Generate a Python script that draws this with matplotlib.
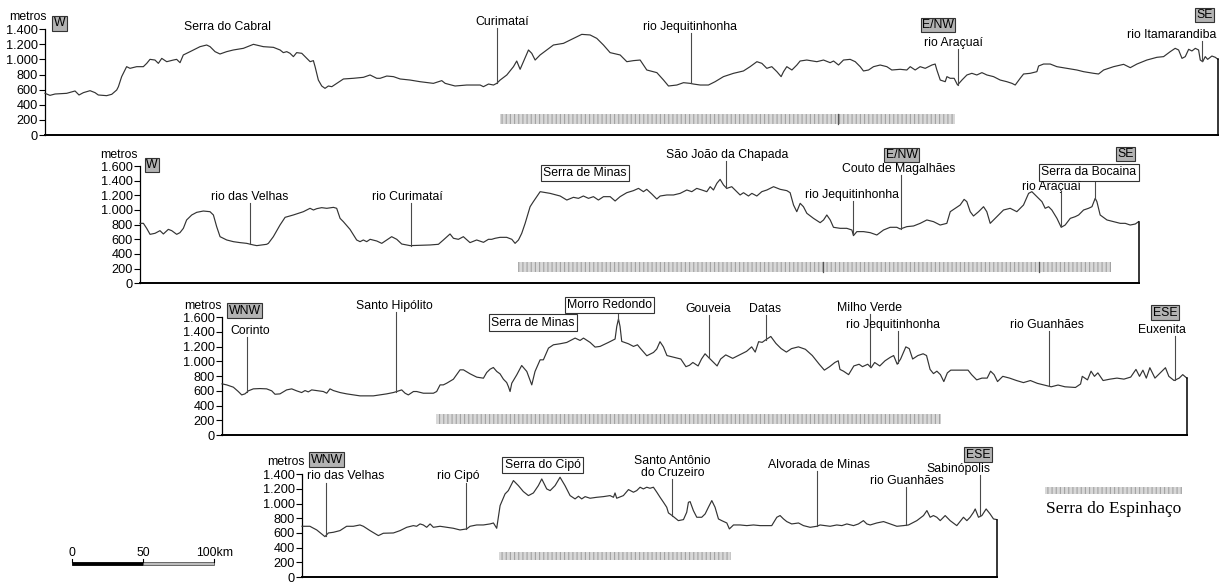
import numpy as np
import matplotlib
matplotlib.use("Agg")
import matplotlib.pyplot as plt
from matplotlib.patches import Rectangle

plt.rcParams['font.family'] = ['Liberation Sans', 'DejaVu Sans']
plt.rcParams['hatch.linewidth'] = 0.8

W, H = 1223, 583
PX_PER_KM = 1.417          # horizontal scale shared by all profiles
LINE = '#333333'
LEAD = '#4a4a4a'
FS = 8.8

# ---------------- profile 1: W -> E/NW -> SE ----------------
p1_km = [0, 3.5, 7.1, 15.3, 21.2, 24.0, 27.1, 31.8, 35.3, 37.6,
         43.5, 47.1, 50.6, 51.8, 54.1, 57.6, 60.0, 64.7, 69.4, 71.8,
         74.1, 77.6, 80.0, 82.4, 85.9, 90.6, 92.9, 95.3, 97.6, 102.4,
         109.4, 114.1, 116.5, 120.0, 123.5, 128.2, 132.9, 140.0, 147.1, 154.1,
         161.2, 165.9, 168.2, 170.6, 172.9, 175.3, 177.6, 181.2, 184.7, 187.1,
         189.4, 190.6, 192.9, 195.3, 197.6, 200.0, 202.4, 205.9, 210.6, 217.6,
         224.7, 229.4, 234.1, 236.5, 241.2, 245.9, 250.6,
         257.6, 264.7, 274.1, 280.0, 282.4, 289.4, 297.6, 307.1, 309.4, 313.0,
         316.5, 318.8, 321.2, 325.9, 330.6, 332.9, 335.3, 337.6, 341.2, 343.5,
         345.9, 349.4, 354.1, 358.8, 365.9, 373.0, 378.8, 384.7, 389.4, 394.1,
         398.8, 405.9, 410.6, 415.3, 420.0, 424.7, 431.8, 436.5, 440.0, 445.9,
         450.6, 455.3, 457.6, 462.4, 468.2, 472.9, 478.8, 485.9, 492.9, 497.6,
         502.4, 505.9, 509.4, 512.9, 516.5, 519.5, 521.2, 523.5, 527.1, 530.6,
         532.9, 537.6, 544.7, 549.4, 554.1, 556.5, 560.0, 563.5, 568.2, 571.8,
         575.3, 577.6, 581.2, 584.7, 589.4, 594.1, 597.6, 603.5, 608.2, 610.6,
         614.1, 617.6, 621.2, 625.9, 628.2, 629.4, 631.8, 635.3, 636.5, 638.8,
         641.6, 644.0, 647.1, 650.6, 654.1, 657.6, 661.2, 664.7, 669.4, 674.1,
         678.8, 682.4, 684.7, 688.2, 690.6, 695.3, 700.0, 701.2, 704.7, 709.4,
         714.1, 721.2, 728.2, 732.9, 740.0, 743.5, 747.1, 754.1, 761.2, 765.9,
         770.6, 777.6, 784.7, 789.4, 794.1, 797.6, 800.0, 802.4, 804.7, 807.1,
         809.4, 811.8, 814.1, 815.3, 817.0, 818.8, 820.5, 823.5, 825.9, 827.8]
p1_m = [552, 525, 543, 552, 583, 530, 561, 587, 561, 530,
        521, 539, 596, 640, 773, 905, 883, 905, 905, 949,
        1002, 993, 949, 1015, 971, 993, 1002, 958, 1060, 1104,
        1170, 1192, 1170, 1104, 1073, 1104, 1126, 1148, 1201, 1170,
        1161, 1126, 1091, 1104, 1082, 1038, 1091, 1082, 1015, 971,
        985, 905, 728, 649, 618, 649, 640, 684, 742, 751,
        764, 795, 751, 751, 781, 773, 742,
        728, 706, 684, 720, 684, 649, 662, 662, 640, 675,
        662, 684, 728, 795, 905, 980, 870, 971, 1126, 1082,
        993, 1060, 1126, 1192, 1214, 1280, 1333, 1325, 1280, 1192,
        1091, 1060, 971, 985, 993, 861, 826, 728, 649, 662,
        693, 684, 675, 662, 662, 706, 773, 817, 848, 905,
        971, 949, 883, 905, 839, 773, 839, 905, 861, 927,
        980, 993, 971, 993, 958, 980, 927, 993, 1002, 971,
        905, 848, 861, 905, 927, 905, 861, 870, 861, 905,
        861, 905, 883, 927, 940, 861, 728, 706, 773, 751,
        751, 662, 728, 795, 817, 795, 826, 795, 773, 728,
        706, 684, 662, 751, 808, 817, 839, 914, 940, 940,
        905, 883, 861, 839, 817, 808, 861, 905, 936, 892,
        940, 993, 1029, 1038, 1104, 1148, 1126, 1015, 1038, 1135,
        1113, 1148, 1126, 993, 971, 1038, 1002, 1046, 1029, 1002]

# ---------------- profile 2: W -> E/NW -> SE ----------------
p2_km = [0, 2.4, 4.7, 7.1, 10.6, 14.1, 16.5, 20.0, 22.4, 25.9,
         28.2, 30.6, 32.9, 36.5, 40.0, 44.7, 49.4, 51.8, 54.1, 56.5,
         61.2, 65.9, 70.6, 75.3, 80.0, 82.4, 89.4, 90.6, 94.1, 98.8,
         102.4, 108.2, 115.3, 120.0, 122.4, 124.7, 128.2, 131.8, 136.5, 138.8,
         141.2, 143.5, 148.2, 152.9, 155.3, 157.6, 160.0, 162.4, 167.1, 170.6,
         174.1, 177.6, 181.2, 184.7, 190.6, 197.6, 204.7, 210.6, 214.1, 218.8,
         221.2, 224.7, 228.2, 232.9, 237.6, 242.4, 245.9, 248.2, 250.6, 254.1,
         258.8, 262.4, 264.7, 267.1, 269.4, 271.8, 275.3, 277.6,
         282.4, 289.4, 296.5, 301.2, 305.9, 309.4, 312.9, 316.5, 320.0, 323.5,
         327.1, 331.8, 335.3, 338.8, 343.5, 348.2, 351.8, 355.3, 357.6, 361.2,
         364.7, 367.1, 371.8, 376.5, 381.2, 385.9, 389.4, 392.9, 396.5, 400.0,
         402.4, 404.7, 407.1, 409.4, 411.8, 414.1, 417.6, 421.2, 423.5, 425.9,
         429.4, 431.8, 435.3, 438.8, 442.4, 447.1, 451.8, 456.5, 458.8, 461.2,
         463.5, 465.9, 468.2, 470.6, 475.3, 480.0, 482.4, 484.7, 487.1, 489.4,
         494.1, 498.8, 502.4, 503.5, 505.9, 510.6, 515.3, 520.0, 524.7, 529.4,
         534.1, 536.5, 541.2, 545.9, 550.6, 555.3, 560.0, 564.7, 569.4,
         571.8, 575.3, 578.8, 581.6, 583.5, 585.9, 588.2, 591.8, 595.3, 597.6,
         600.0, 604.7, 609.4, 614.1, 618.8, 623.5, 627.1, 629.4, 632.9, 636.5,
         638.8, 641.2, 643.5, 647.1, 650.1, 652.9, 656.5, 660.0, 662.4, 665.9,
         669.4, 671.8, 674.1, 675.3, 677.6, 682.4, 687.1, 691.8, 695.3, 698.8,
         702.4, 704.7]
p2_m = [818, 818, 750, 668, 682, 718, 673, 736, 718, 668,
        691, 750, 864, 932, 968, 986, 977, 932, 773, 636,
        591, 568, 555, 545, 523, 514, 532, 545, 636, 795,
        900, 932, 977, 1023, 1000, 1018, 1032, 1023, 1036, 1023,
        886, 841, 736, 591, 568, 591, 568, 600, 577, 545,
        591, 636, 600, 536, 514, 518, 523, 532, 591, 673,
        614, 600, 636, 555, 591, 559, 600, 600, 614, 627,
        627, 600, 545, 591, 682, 818, 1045, 1114,
        1250, 1227, 1191, 1136, 1173, 1159, 1191, 1159, 1182, 1136,
        1182, 1182, 1123, 1182, 1236, 1264, 1295, 1250, 1282, 1218,
        1150, 1191, 1205, 1205, 1227, 1273, 1250, 1295, 1273, 1250,
        1318, 1273, 1364, 1418, 1341, 1295, 1318, 1250, 1205, 1236,
        1191, 1227, 1191, 1250, 1273, 1318, 1282, 1264, 1236, 1068,
        977, 1091, 1045, 955, 886, 827, 864, 932, 864, 764,
        750, 750, 727, 650, 705, 705, 691, 659, 727, 764,
        764, 741, 773, 782, 818, 864, 841, 795, 818,
        977, 1023, 1068, 1145, 1114, 977, 918, 977, 1045, 977,
        818, 909, 1000, 1023, 977, 1068, 1227, 1250, 1182, 1114,
        1023, 1045, 1000, 886, 764, 795, 886, 909, 932, 1000,
        1023, 1045, 1159, 1114, 932, 864, 841, 818, 818, 795,
        809, 841]

# ---------------- profile 3: WNW -> ESE ----------------
p3_km = [0, 3.3, 8.0, 11.5, 13.9, 16.2, 18.6, 22.1, 26.8, 31.5,
         35.1, 37.4, 40.9, 45.6, 49.2, 52.7, 56.2, 58.6, 60.9, 63.3,
         66.8, 71.5, 73.9, 76.2, 78.6, 83.3, 88.0, 92.7, 97.4, 102.1,
         106.8, 111.5, 116.2, 120.9, 123.3, 126.8, 129.2, 131.5, 135.1, 137.4,
         142.1, 144.5, 149.2, 151.5, 153.9, 156.2, 158.6, 163.3, 168.0, 170.4,
         175.1, 179.8, 184.5, 186.8, 189.2, 191.5, 193.9, 196.2, 198.6, 200.9,
         202.1, 203.3, 204.5, 208.0, 211.5, 215.1, 218.6, 220.9, 224.5, 226.8,
         230.4, 233.9, 238.6, 243.3, 249.2, 252.7, 255.1, 259.8, 263.3, 266.8,
         272.7, 277.4, 278.6, 279.8, 280.9, 282.1, 286.8, 290.4, 293.2, 295.1,
         299.8, 304.5, 306.8,
         309.1, 311.5, 314.0, 318.9, 323.8, 327.4, 329.9, 332.3, 336.0, 338.4,
         340.9, 343.3, 347.0, 349.4, 351.9, 355.5, 360.4, 365.3, 370.2, 373.8,
         376.3, 378.7, 381.2, 383.6, 387.3, 390.9, 394.6, 398.3, 401.9, 406.8,
         411.7, 416.6, 421.5, 425.1, 428.8, 432.5, 434.9, 436.1, 438.6, 442.2,
         445.9, 449.6, 452.0, 455.7, 458.1, 460.6, 464.2, 467.9, 471.6, 474.0,
         476.5, 478.9, 482.6, 485.0, 487.4, 491.1, 494.8, 497.2, 499.7, 502.1,
         504.5, 507.0, 509.4, 511.9, 514.3, 519.2, 524.1, 526.5, 529.0, 532.6,
         536.3, 540.0, 542.4, 544.9, 547.3, 551.0, 555.8, 560.7, 565.6, 570.5,
         575.4, 580.3, 585.2, 590.0, 594.9, 602.3, 605.9, 607.1, 610.8, 613.3,
         615.7, 618.1, 621.8, 626.7, 631.6, 636.5, 641.3, 645.0, 647.5, 649.9,
         652.3, 654.8, 658.4, 662.1, 665.8, 668.2, 671.9, 675.5, 678.0, 680.9]
p3_m = [694, 680, 649, 590, 544, 558, 599, 626, 630, 626,
        599, 553, 558, 612, 626, 599, 576, 603, 585, 612,
        603, 590, 567, 626, 603, 576, 558, 544, 531, 531,
        531, 544, 558, 576, 590, 612, 567, 544, 590, 590,
        567, 567, 567, 590, 680, 680, 703, 757, 884, 884,
        830, 785, 771, 848, 893, 916, 862, 830, 757, 712,
        658, 590, 703, 816, 943, 862, 680, 862, 1020, 1020,
        1179, 1224, 1238, 1256, 1315, 1283, 1315, 1256, 1193, 1202,
        1256, 1302, 1474, 1574, 1474, 1270, 1238, 1202, 1224, 1179,
        1075, 1120, 1166,
        1266, 1196, 1078, 1054, 1031, 927, 946, 984, 937, 1031,
        1102, 1054, 984, 937, 1031, 1087, 1040, 1087, 1135, 1196,
        1125, 1266, 1257, 1290, 1337, 1243, 1172, 1125, 1172, 1196,
        1163, 1078, 960, 880, 927, 984, 1007, 890, 866, 819,
        937, 960, 927, 960, 913, 984, 937, 1007, 1054, 1078,
        960, 1031, 1196, 1172, 1031, 1078, 1102, 1078, 890, 833,
        866, 819, 725, 843, 880, 880, 880, 880, 819, 748,
        772, 772, 866, 819, 725, 796, 772, 739, 711, 739,
        701, 678, 654, 678, 654, 645, 692, 796, 748, 866,
        796, 843, 739, 758, 772, 758, 786, 890, 796, 880,
        772, 913, 772, 843, 913, 796, 739, 772, 819, 772]

# ---------------- profile 4: WNW -> ESE ----------------
p4_km = [0, 5.6, 6.8, 10.4, 13.9, 16.2, 18.6, 22.1, 26.8, 31.5,
         36.2, 40.9, 43.3, 48.0, 53.9, 57.4, 64.5, 69.2, 73.9, 78.6,
         80.9, 83.3, 85.6, 88.0, 90.4, 92.7, 97.4, 102.1, 106.8, 111.5,
         116.2, 118.6, 123.3, 128.0, 132.7, 135.1, 137.4,
         139.8, 143.3, 145.6, 149.2, 152.7, 156.2, 159.8, 163.3, 166.8, 169.2,
         172.7, 175.1, 178.6, 182.1, 185.6, 189.2, 192.7, 195.1, 197.4, 199.8,
         203.3, 208.0, 212.7, 217.4, 219.8, 220.9, 222.1, 226.8, 230.4, 233.9,
         236.2, 238.6, 240.9, 243.3, 245.6, 248.0, 250.4, 252.7, 255.1, 257.4,
         258.6, 261.2, 265.6, 269.2, 271.5, 272.7, 273.9, 276.2, 278.6, 282.1,
         284.5, 286.8, 289.2, 291.5, 293.9, 296.2, 299.8, 301.6, 304.5, 309.2,
         313.9, 318.6, 323.3, 328.0, 331.5, 335.1, 337.4, 339.8, 342.1, 345.6,
         350.4, 353.9, 358.6, 363.3, 365.6, 369.2, 372.7, 377.4, 381.0, 384.5,
         389.2, 392.7, 396.2, 398.6, 401.0, 405.6, 410.4, 415.1, 419.8, 424.5,
         428.0, 433.9, 438.6, 441.0, 443.3, 445.6, 448.0, 450.4, 453.9, 457.4,
         462.1, 466.8, 469.2, 471.5, 473.9, 475.1, 477.4, 479.8, 482.8, 485.6,
         488.0, 490.4]
p4_m = [691, 691, 678, 641, 587, 550, 600, 609, 632, 691,
        691, 709, 691, 632, 564, 596, 600, 632, 677, 700,
        691, 723, 709, 677, 723, 677, 691, 677, 664, 641,
        655, 691, 709, 709, 723, 736, 664,
        973, 1132, 1177, 1314, 1245, 1164, 1109, 1145, 1245, 1336,
        1200, 1177, 1245, 1359, 1245, 1109, 1064, 1100, 1064, 1095,
        1073, 1086, 1095, 1109, 1086, 1145, 1073, 1109, 1191, 1155,
        1177, 1223, 1200, 1223, 1209, 1223, 1155, 1086, 1018, 950,
        873, 837, 768, 782, 882, 1018, 1027, 905, 814, 814,
        859, 950, 1041, 950, 791, 768, 736, 655, 709, 709,
        700, 709, 700, 700, 700, 814, 837, 791, 755, 723,
        736, 700, 677, 691, 709, 700, 691, 709, 700, 723,
        700, 723, 768, 723, 709, 736, 755, 723, 691, 700,
        709, 768, 837, 905, 814, 837, 814, 768, 837, 768,
        700, 814, 768, 814, 882, 927, 814, 837, 927, 859,
        791, 782]

# Serra do Espinhaço extent along each profile (km)
p1_espinhaco = (321.1, 642.2)
p2_espinhaco = (266.8, 685.3)
p3_espinhaco = (151.0, 507.4)
p4_espinhaco = (139.0, 302.8)

# labels: (text, x_km, y_m, style, leader_km, leader_top_m)
p1_labels = [
    ("W", 10.4, 1479, 'dir', None, None),
    ("Serra do Cabral", 129.1, 1430, None, None, None),
    ("Curimataí", 322.3, 1501, None, 319.2, 1417),
    ("rio Jequitinhonha", 455.2, 1426, None, 455.7, 1351),
    ("E/NW", 630.2, 1457, 'dir', None, None),
    ("rio Araçuaí", 641.4, 1215, None, 644.1, 1139),
    ("SE", 818.4, 1589, 'dir', None, None),
    ("rio Itamarandiba", 795.3, 1325, None, 816.7, 1245),
]
p2_labels = [
    ("W", 8.5, 1614, 'dir', None, None),
    ("rio das Velhas", 77.6, 1181, None, 77.6, 1095),
    ("rio Curimataí", 188.8, 1181, None, 191.0, 1095),
    ("Serra de Minas", 314.0, 1505, 'box', None, None),
    ("São João da Chapada", 414.3, 1750, None, 413.6, 1668),
    ("E/NW", 537.5, 1750, 'dir', None, None),
    ("Couto de Magalhães", 535.1, 1555, None, 537.1, 1477),
    ("rio Jequitinhonha", 502.5, 1205, None, 503.2, 1123),
    ("SE", 695.7, 1764, 'dir', None, None),
    ("Serra da Bocaina", 669.6, 1514, 'box', 674.0, 1409),
    ("rio Araçuaí", 643.4, 1318, None, 649.8, 1232),
]
p3_labels = [
    ("WNW", 16.2, 1687, 'dir', None, None),
    ("Corinto", 19.8, 1415, None, 17.9, 1330),
    ("Santo Hipólito", 121.4, 1750, None, 122.6, 1669),
    ("Serra de Minas", 219.5, 1524, 'box', None, None),
    ("Morro Redondo", 273.6, 1764, 'box', 279.6, 1669),
    ("Gouveia", 343.3, 1710, None, 343.8, 1628),
    ("Datas", 383.6, 1710, None, 383.6, 1628),
    ("Milho Verde", 457.0, 1723, None, 457.3, 1642),
    ("rio Jequitinhonha", 473.5, 1498, None, 477.1, 1411),
    ("rio Guanhães", 582.2, 1498, None, 583.9, 1411),
    ("ESE", 665.5, 1662, 'dir', None, None),
    ("Euxenita", 663.0, 1427, None, 672.3, 1343),
]
p4_labels = [
    ("WNW", 17.4, 1599, 'dir', None, None),
    ("rio das Velhas", 31.1, 1372, None, 16.7, 1286),
    ("rio Cipó", 110.1, 1372, None, 115.5, 1286),
    ("Serra do Cipó", 169.7, 1527, 'box', None, None),
    ("Santo Antônio\ndo Cruzeiro", 261.5, 1504, None, 261.3, 1341),
    ("Alvorada de Minas", 364.9, 1527, None, 363.7, 1450),
    ("rio Guanhães", 427.0, 1313, None, 426.0, 1232),
    ("ESE", 477.1, 1668, 'dir', None, None),
    ("Sabinópolis", 463.3, 1473, None, 478.5, 1395),
]

# panel layout: left px, baseline px, px per metre, top tick, "metros" anchor,
# band position (m), dark marks inside the band (km)
panels = [
    dict(km=p1_km, m=p1_m, x0=45, y0=135.0, ppm=0.0755, top=1400,
         metros=(1.2, 1567), band=p1_espinhaco, band_m=(146, 272),
         marks=[559.6], labels=p1_labels),
    dict(km=p2_km, m=p2_m, x0=140, y0=283.3, ppm=0.0733, top=1600,
         metros=(-1.4, 1750), band=p2_espinhaco, band_m=(154, 291),
         marks=[482.0, 634.4], labels=p2_labels),
    dict(km=p3_km, m=p3_m, x0=222, y0=435.0, ppm=0.0737, top=1600,
         metros=(-0.2, 1750), band=p3_espinhaco, band_m=(149, 285),
         marks=[], labels=p3_labels),
    dict(km=p4_km, m=p4_m, x0=302, y0=577.0, ppm=0.0734, top=1400,
         metros=(2.1, 1563), band=p4_espinhaco, band_m=(225, 347),
         marks=[], labels=p4_labels),
]

BAND_FC = '#d8d8d8'
BAND_HATCH = '#a2a2a2'

fig = plt.figure(figsize=(W / 100, H / 100), dpi=100)
fig.patch.set_facecolor('white')


def thousands(v, _pos=None):
    return f"{int(v):,}".replace(",", ".")


for p in panels:
    km = np.asarray(p['km'], float)
    m = np.asarray(p['m'], float)
    width_px = km[-1] * PX_PER_KM
    height_px = p['top'] * p['ppm']
    ax = fig.add_axes([p['x0'] / W, 1 - p['y0'] / H, width_px / W, height_px / H])
    ax.set_xlim(0, km[-1])
    ax.set_ylim(0, p['top'])
    ax.patch.set_alpha(0)
    for s in ('top', 'right'):
        ax.spines[s].set_visible(False)
    ax.spines['left'].set_linewidth(0.9)
    ax.spines['bottom'].set_linewidth(1.4)
    ax.set_xticks([])
    ticks = np.arange(0, p['top'] + 1, 200)
    ax.set_yticks(ticks)
    ax.set_yticklabels([thousands(t) for t in ticks], fontsize=9.2)
    ax.tick_params(axis='y', length=4, width=0.8, pad=1)

    # terrain profile, closed down to the baseline at the far end
    ax.plot(km, m, color=LINE, lw=0.85, clip_on=False, zorder=3)
    ax.plot([km[-1], km[-1]], [m[-1], 0], color='black', lw=1.1,
            clip_on=False, zorder=3)

    # Espinhaço band
    b0, b1 = p['band']
    lo, hi = p['band_m']
    ax.add_patch(Rectangle((b0, lo), b1 - b0, hi - lo, facecolor=BAND_FC,
                           edgecolor=BAND_HATCH, hatch='||||', lw=0, zorder=2))
    for mk in p['marks']:
        ax.plot([mk, mk], [lo, hi], color='#555555', lw=0.9, zorder=2)

    mx, my = p['metros']
    ax.text(mx, my, "metros", ha='right', va='center', fontsize=FS,
            clip_on=False)

    for text, tx, ty, style, lk, ltop in p['labels']:
        kw = dict(ha='center', va='center', fontsize=FS, clip_on=False,
                  zorder=5, linespacing=1.0)
        if style == 'dir':
            kw['bbox'] = dict(boxstyle='square,pad=0.12', fc='#b3b3b3',
                              ec='#333333', lw=0.8)
        elif style == 'box':
            kw['bbox'] = dict(boxstyle='square,pad=0.18', fc='white',
                              ec='#333333', lw=0.8)
        ax.text(tx, ty, text, **kw)
        if lk is not None:
            bottom = np.interp(lk, km, m)
            ax.plot([lk, lk], [ltop, bottom], color=LEAD, lw=0.8,
                    clip_on=False, zorder=4)

# overlay in pixel units for the scale bar and the band key
ov = fig.add_axes([0, 0, 1, 1])
ov.set_xlim(0, W)
ov.set_ylim(H, 0)
ov.axis('off')
ov.patch.set_alpha(0)

scale_km = [0, 50, 100]
scale_lbl = ["0", "50", "100km"]
sx0, sy = 72, 563
half = 50 * PX_PER_KM
ov.add_patch(Rectangle((sx0, sy - 1.5), half, 3, fc='black', ec='black', lw=0.6))
ov.add_patch(Rectangle((sx0 + half, sy - 1.5), half, 3, fc='#bdbdbd',
                       ec='#555555', lw=0.6))
for k, lbl in zip(scale_km, scale_lbl):
    xx = sx0 + k * PX_PER_KM
    ov.plot([xx, xx], [sy - 1.5, sy - 4], color='black', lw=0.8)
    ov.text(xx if k < 100 else xx + 0.5, sy - 10, lbl, ha='center',
            va='center', fontsize=FS)

key_x, key_y, key_w = 1045, 486.7, 136.7
ov.add_patch(Rectangle((key_x, key_y), key_w, 7.5, facecolor=BAND_FC,
                       edgecolor=BAND_HATCH, hatch='||||', lw=0))
ov.text(key_x + key_w / 2, 509, "Serra do Espinhaço", ha='center', va='center',
        fontsize=12.5, family=['Liberation Serif', 'DejaVu Serif'])

fig.savefig("out.png", dpi=100, facecolor='white')
